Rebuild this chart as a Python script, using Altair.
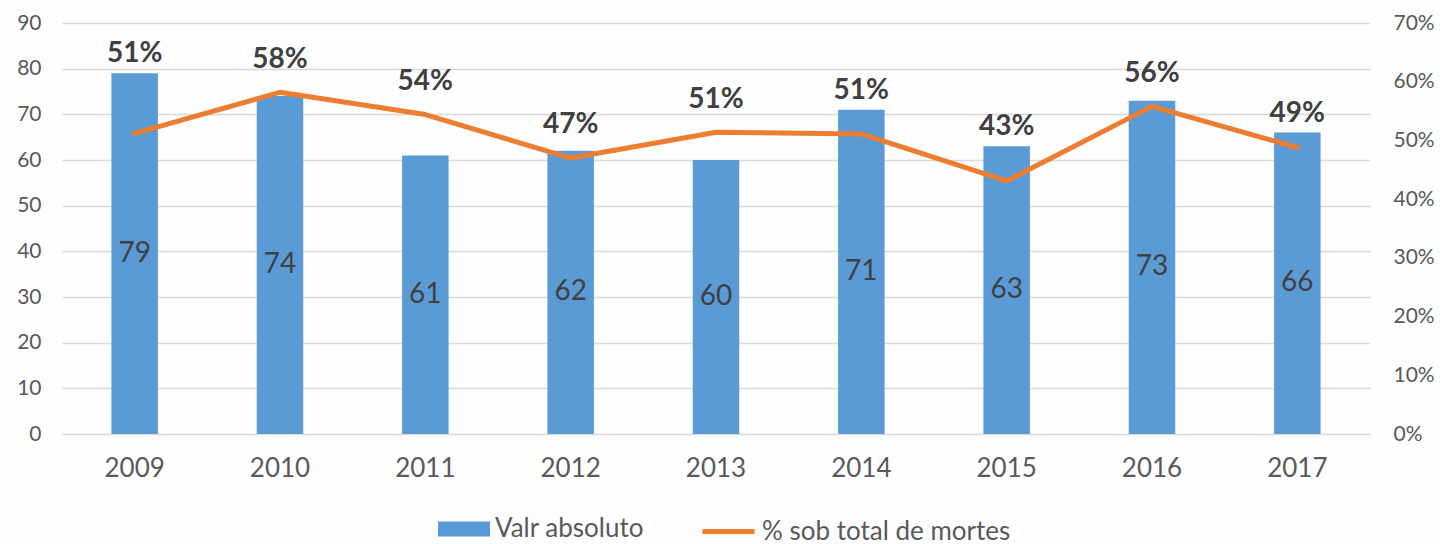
import altair as alt
import pandas as pd

years = ["2009", "2010", "2011", "2012", "2013", "2014", "2015", "2016", "2017"]
absolute = [79, 74, 61, 62, 60, 71, 63, 73, 66]
share = [0.512, 0.582, 0.544, 0.470, 0.514, 0.511, 0.431, 0.558, 0.488]

bar_name = "Valr absoluto"
line_name = "% sob total de mortes"

FONT = "Lato"
LEFT_MAX = 90
RIGHT_MAX = 0.7
LINE_CLEAR = 3  # extra clearance (left-axis units) for labels sitting over the line

df = pd.DataFrame({"year": years, "abs": absolute, "pct": share})
df["mid"] = df["abs"] / 2
df["lab_y"] = [max(a, p * LEFT_MAX / RIGHT_MAX + LINE_CLEAR) for a, p in zip(absolute, share)]

x = alt.X("year:N", title=None,
          scale=alt.Scale(paddingInner=0.68, paddingOuter=0.34),
          axis=alt.Axis(labelAngle=0, labelFont=FONT, labelFontSize=26,
                        labelColor="#595959", labelPadding=21, ticks=False,
                        domain=False))

yl_scale = alt.Scale(domain=[0, LEFT_MAX], nice=False)
yr_scale = alt.Scale(domain=[0, RIGHT_MAX], nice=False)

base = alt.Chart(df)

bars = base.mark_bar(color="#5B9BD5").encode(
    x=x,
    y=alt.Y("abs:Q", scale=yl_scale, title=None,
            axis=alt.Axis(values=list(range(0, 91, 10)), labelFont=FONT,
                          labelFontSize=21, labelColor="#595959",
                          labelPadding=21, ticks=False, domain=False,
                          grid=True, gridColor="#D9D9D9", gridWidth=1.5)),
    color=alt.Color("s:N", scale=alt.Scale(domain=[bar_name], range=["#5B9BD5"]),
                    legend=alt.Legend(title=None, orient="none", legendX=376,
                                      legendY=480, labelFont=FONT,
                                      labelFontSize=26, labelColor="#595959",
                                      labelOffset=5, labelLimit=400,
                                      symbolType="M-1,-0.29H1V0.29H-1Z",
                                      symbolSize=2704, symbolStrokeWidth=0)),
).transform_calculate(s=f"'{bar_name}'")

bar_text = base.mark_text(font=FONT, fontSize=28, color="#404040").encode(
    x=x,
    y=alt.Y("mid:Q", scale=yl_scale),
    text=alt.Text("abs:Q"),
)

pct_text = base.mark_text(font=FONT, fontSize=28, fontWeight="bold",
                          color="#404040", baseline="bottom", dy=-5).encode(
    x=x,
    y=alt.Y("lab_y:Q", scale=yl_scale),
    text=alt.Text("pct:Q", format=".0%"),
)

line = base.mark_line(color="#ED7D31", strokeWidth=5, strokeCap="round",
                      strokeJoin="round").encode(
    x=x,
    y=alt.Y("pct:Q", scale=yr_scale, title=None,
            axis=alt.Axis(orient="right", values=[i / 10 for i in range(8)],
                          format=".0%", labelFont=FONT, labelFontSize=21,
                          labelColor="#595959", labelPadding=23, ticks=False,
                          domain=False, grid=False)),
    stroke=alt.Stroke("t:N", scale=alt.Scale(domain=[line_name], range=["#ED7D31"]),
                      legend=alt.Legend(title=None, orient="none", legendX=638,
                                        legendY=480, labelFont=FONT,
                                        labelFontSize=26, labelColor="#595959",
                                        labelOffset=5, labelLimit=400,
                                        symbolType="stroke",
                                        symbolSize=2704, symbolStrokeWidth=5)),
).transform_calculate(t=f"'{line_name}'")

left = alt.layer(bars, bar_text, pct_text)

chart = alt.layer(left, line).resolve_scale(
    y="independent", color="independent", stroke="independent"
).properties(
    width=1308, height=411,
    autosize=alt.AutoSizeParams(type="none"),
    padding={"left": 62, "top": 23, "right": 70, "bottom": 110},
    background="#fdfdfd",
).configure_view(stroke=None)

chart.save("out.html", embed_options={"renderer": "svg", "actions": False})
